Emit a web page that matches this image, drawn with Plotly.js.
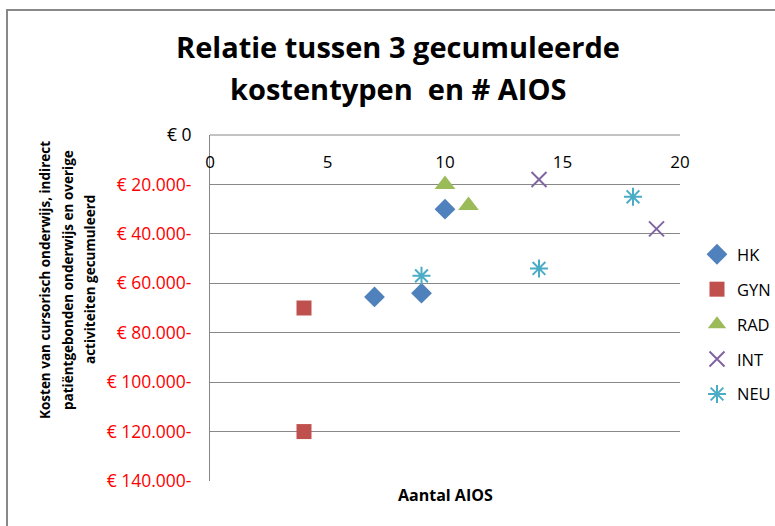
<!DOCTYPE html>
<html>
<head>
<meta charset="utf-8">
<script src="https://cdn.plot.ly/plotly-3.0.1.min.js"></script>
<style>html,body{margin:0;padding:0;background:#fff;}#chart{width:775px;height:526px;}</style>
</head>
<body>
<div id="chart"></div>
<script>
// Data (costs are negative: cumulative cost shown downward)
const seriesNames = ["HK", "GYN", "RAD", "INT", "NEU"];
const hkX = [10, 7, 9];
const hkY = [-30000, -65500, -64000];
const gynX = [4, 4];
const gynY = [-70000, -120000];
const radX = [10, 11];
const radY = [-20000, -28500];
const intX = [14, 19];
const intY = [-18000, -38000];
const neuX = [9, 14, 18];
const neuY = [-57000, -54000, -25000];

const yTickVals = [0, -20000, -40000, -60000, -80000, -100000, -120000, -140000];
const yTickText = ["€ 0", "€ 20.000-", "€ 40.000-", "€ 60.000-", "€ 80.000-", "€ 100.000-", "€ 120.000-", "€ 140.000-"];
const xTickVals = [0, 5, 10, 15, 20];

const titleLines = ["Relatie tussen 3 gecumuleerde", "kostentypen  en # AIOS"];
const yTitleLines = ["Kosten van cursorisch onderwijs, indirect", "patiëntgebonden onderwijs en overige", "activiteiten gecumuleerd"];
const xTitle = "Aantal AIOS";

const colors = ["#4F81BD", "#C0504D", "#9BBB59", "#8064A2", "#4BACC6"];
const xs = [hkX, gynX, radX, intX, neuX];
const ys = [hkY, gynY, radY, intY, neuY];
const symbols = ["diamond", "square", "triangle-up", "x-thin-open", "asterisk-open"];
const sizes = [16, 15, 18, 15, 15];

const traces = seriesNames.map((n, i) => ({
  type: "scatter", mode: "markers", name: n, x: xs[i], y: ys[i],
  legendgroup: n,
  marker: {symbol: symbols[i], size: sizes[i], color: colors[i],
           line: {color: colors[i], width: i >= 3 ? 2 : 0}}
}));

const W = 775, H = 526, L = 210, R = 95, T = 135, B = 45;
const pw = W - L - R, ph = H - T - B;
const px = v => (v - L) / pw;
const py = v => (H - B - v) / ph;

const font = "'Open Sans', sans-serif";
const annotations = [];
titleLines.forEach((t, i) => annotations.push({
  text: "<b>" + t + "</b>", xref: "paper", yref: "paper", x: px(398), y: py([46, 89][i]),
  xanchor: "center", yanchor: "middle", showarrow: false,
  font: {family: font, size: 29, color: "#000"}
}));
yTitleLines.forEach((t, i) => annotations.push({
  text: "<b>" + t + "</b>", xref: "paper", yref: "paper", x: px([45, 68, 90][i]), y: py(280),
  xanchor: "center", yanchor: "middle", showarrow: false, textangle: -90,
  font: {family: font, size: 13.5, color: "#000"}
}));
annotations.push({
  text: "<b>" + xTitle + "</b>", xref: "paper", yref: "paper", x: 0.5, y: py(495),
  xanchor: "center", yanchor: "middle", showarrow: false,
  font: {family: font, size: 16, color: "#000"}
});

const layout = {
  width: W, height: H,
  margin: {l: L, r: R, t: T, b: B, pad: 0, autoexpand: false},
  paper_bgcolor: "#fff", plot_bgcolor: "#fff",
  font: {family: font, size: 15, color: "#000"},
  showlegend: true,
  legend: {x: px(697), y: py(237), xanchor: "left", yanchor: "top",
           font: {family: font, size: 16.5, color: "#000"},
           traceorder: "grouped", tracegroupgap: 10.5, bgcolor: "rgba(0,0,0,0)"},
  xaxis: {
    range: [0, 20], side: "bottom", anchor: "free", position: py(150), automargin: false,
    tickvals: xTickVals, ticktext: xTickVals.map(String),
    showgrid: false, zeroline: false, showline: false,
    ticks: "", ticklabelstandoff: 0, ticklabeloverflow: "allow",
    tickfont: {family: font, size: 17, color: "#000"}, fixedrange: true
  },
  yaxis: {
    range: [-140000, 0], tickvals: yTickVals, automargin: false,
    ticktext: yTickText.map((t, i) => i === 0 ? t : '<span style="color:#FF0000">' + t + '</span>'),
    showgrid: true, gridcolor: "#888", gridwidth: 1, zeroline: false,
    showline: true, linecolor: "#888", linewidth: 1, ticks: "", ticklabelstandoff: 14,
    tickfont: {family: font, size: 17.5, color: "#000"}, fixedrange: true
  },
  shapes: [
    {type: "rect", xref: "paper", yref: "paper", x0: px(7), x1: px(800), y0: py(560), y1: py(10),
     line: {color: "#888", width: 2}, layer: "below"},
    {type: "line", xref: "paper", yref: "paper", x0: 0, x1: 1, y0: 1, y1: 1,
     line: {color: "#888", width: 1}, layer: "below"}
  ],
  annotations: annotations
};

Plotly.newPlot("chart", traces, layout, {displayModeBar: false, staticPlot: true});
</script>
</body>
</html>
